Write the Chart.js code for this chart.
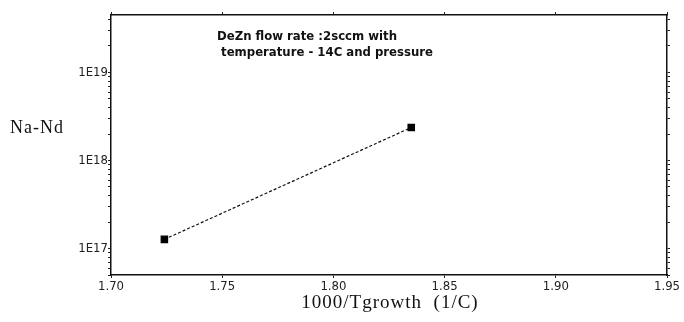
<!DOCTYPE html>
<html>
<head>
<meta charset="utf-8">
<script src="https://cdn.jsdelivr.net/npm/chart.js@4.4.1/dist/chart.umd.min.js"></script>
<style>
  html, body { margin: 0; padding: 0; background: #fff; }
  #wrap { width: 684px; height: 322px; position: relative; }
</style>
</head>
<body>
<div id="wrap"><canvas id="dopingChart"></canvas></div>
<script>
// measured doping vs growth temperature
const xValues = [1.724, 1.835];
const yValues = [1.27e17, 2.37e18];

const xTicks = [1.70, 1.75, 1.80, 1.85, 1.90, 1.95];
const yTicks = [1e17, 1e18, 1e19];
const yLabels = ["1E17", "1E18", "1E19"];

const xTitle = "1000/Tgrowth  (1/C)";
const yTitle = "Na-Nd";
const noteLines = ["DeZn flow rate :2sccm with", " temperature - 14C and pressure"];

// minor ticks 2..9 in every decade, labels only on the decades
function logTicks(min, max) {
  const out = [];
  for (let e = 16; e <= 19; e++) {
    for (let m = 1; m <= 9; m++) {
      const v = m * Math.pow(10, e);
      if (v >= min && v <= max) out.push({ value: v });
    }
  }
  return out;
}

const tickFont = { family: "DejaVu Sans Condensed", size: 13 };

const textPlugin = {
  id: "chartText",
  afterDraw(chart) {
    const { ctx, chartArea } = chart;
    ctx.save();
    ctx.fillStyle = "#111";
    ctx.font = "18px 'Liberation Serif'";
    ctx.letterSpacing = "1px";
    ctx.textAlign = "left";
    ctx.textBaseline = "middle";
    ctx.fillText(yTitle, 10, 128);
    ctx.textAlign = "center";
    ctx.font = "19px 'Liberation Serif'";
    ctx.fillText(xTitle, (chartArea.left + chartArea.right) / 2 + 1, 303);
    ctx.letterSpacing = "0px";
    ctx.textAlign = "left";
    ctx.font = "bold 13px 'DejaVu Sans Condensed'";
    ctx.fillText(noteLines[0], 217, 37);
    ctx.fillText(noteLines[1], 217, 53);
    ctx.restore();
  }
};

const yCommon = {
  type: "logarithmic",
  min: 5e16,
  max: 4.5e19,
  afterBuildTicks: s => { s.ticks = logTicks(s.min, s.max); },
  grid: { drawOnChartArea: false, color: "#222", tickLength: 3, tickWidth: 1 },
  border: { color: "#111", width: 1.5 }
};

new Chart(document.getElementById("dopingChart"), {
  type: "line",
  data: {
    datasets: [{
      data: xValues.map((x, i) => ({ x, y: yValues[i] })),
      borderColor: "#111",
      borderWidth: 1.2,
      borderDash: [3, 2],
      pointStyle: "rect",
      pointRadius: 4.5,
      pointBackgroundColor: "#000",
      pointBorderColor: "#000",
      fill: false,
      tension: 0
    }]
  },
  options: {
    responsive: true,
    maintainAspectRatio: false,
    animation: false,
    layout: { padding: 0 },
    plugins: { legend: { display: false }, tooltip: { enabled: false } },
    scales: {
      x: {
        type: "linear",
        position: "bottom",
        min: xTicks[0],
        max: xTicks[xTicks.length - 1],
        afterBuildTicks: s => { s.ticks = xTicks.map(v => ({ value: v })); },
        afterFit: s => { s.height = 47; },
        ticks: { font: tickFont, color: "#222", padding: 1, callback: v => Number(v).toFixed(2) },
        grid: { drawOnChartArea: false, color: "#222", tickLength: 3 },
        border: { color: "#111", width: 1.5 }
      },
      x2: {
        type: "linear",
        position: "top",
        min: xTicks[0],
        max: xTicks[xTicks.length - 1],
        afterBuildTicks: s => { s.ticks = xTicks.map(v => ({ value: v })); },
        afterFit: s => { s.height = 15; },
        ticks: { display: false },
        grid: { drawOnChartArea: false, color: "#222", tickLength: 3 },
        border: { color: "#111", width: 1.5 }
      },
      y: {
        ...yCommon,
        position: "left",
        afterFit: s => { s.width = 111; },
        ticks: {
          font: tickFont, color: "#222", padding: 0, autoSkip: false,
          callback: v => { const i = yTicks.findIndex(t => Math.abs(t - v) / t < 1e-6); return i >= 0 ? yLabels[i] : ""; }
        }
      },
      y2: {
        ...yCommon,
        position: "right",
        afterFit: s => { s.width = 17; },
        ticks: { display: false }
      }
    }
  },
  plugins: [textPlugin]
});
</script>
</body>
</html>
